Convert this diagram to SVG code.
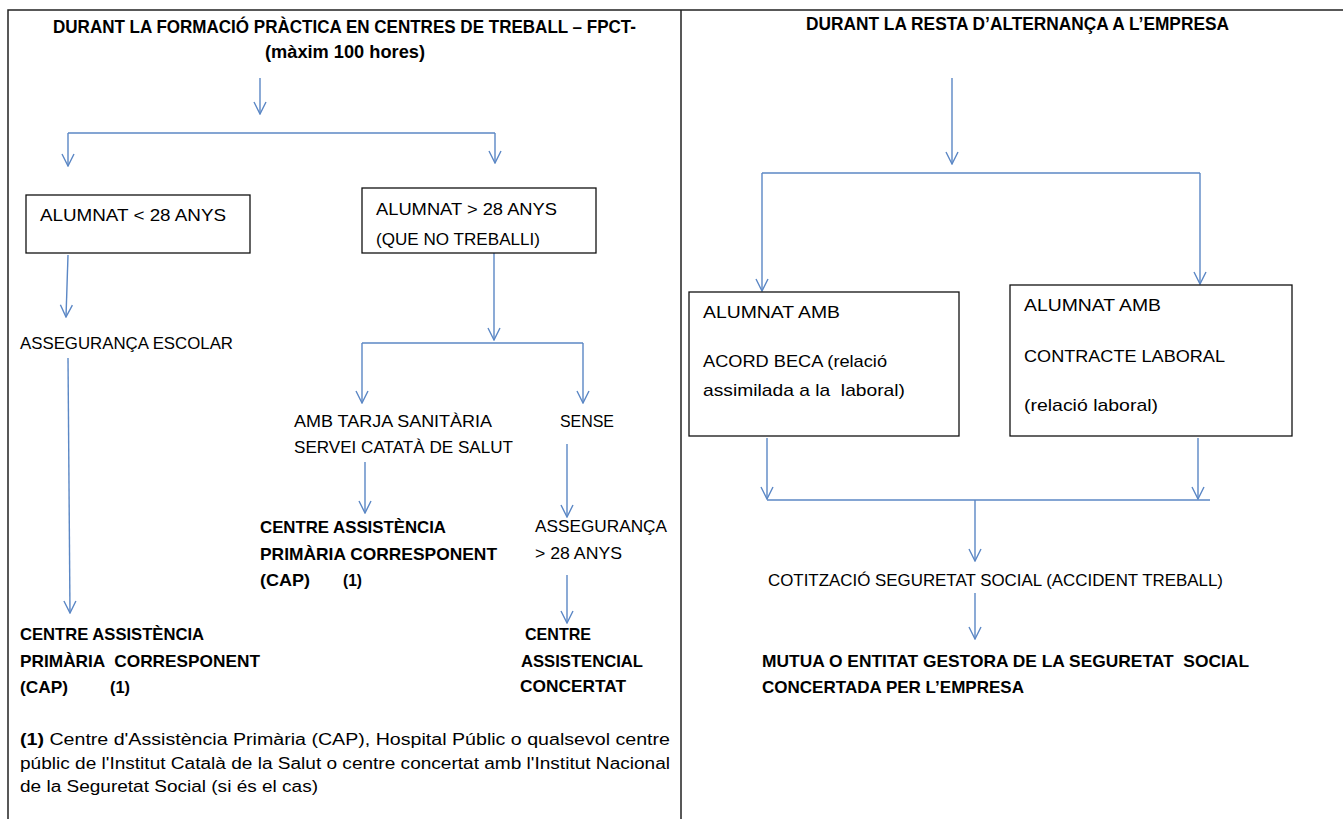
<svg xmlns="http://www.w3.org/2000/svg" width="1343" height="819" viewBox="0 0 1343 819">
<defs>
<marker id="ah" markerUnits="userSpaceOnUse" markerWidth="14" markerHeight="14" viewBox="0 0 14 14" refX="13" refY="7" orient="auto">
<path d="M1,1 L13,7 L1,13" fill="none" stroke="#5b87c5" stroke-width="1.4"/>
</marker>
</defs>
<style>
.frame{fill:none;stroke:#222;stroke-width:1.5}
.box{fill:#fff;stroke:#111;stroke-width:1.3}
.c{fill:none;stroke:#5b87c5;stroke-width:1.4}
.a{marker-end:url(#ah)}
text{font-family:"Liberation Sans",Arial,sans-serif;fill:#000}
.t{font-size:18px;font-weight:bold}
.r{font-size:17px}
.b{font-size:17px;font-weight:bold}
.f{font-size:16px}
</style>
<rect width="1343" height="819" fill="#fff"/>
<g id="frame">
<path class="frame" d="M8,819 V10 H1343 M681,10 V819"/>
</g>
<g id="connectors">
<line class="c a" x1="260" y1="78" x2="260" y2="114"/>
<path class="c" d="M68,133 H495"/>
<line class="c a" x1="68" y1="133" x2="68" y2="166"/>
<line class="c a" x1="495" y1="133" x2="495" y2="163"/>
<line class="c a" x1="68" y1="255" x2="66" y2="317"/>
<line class="c a" x1="68" y1="358" x2="70" y2="613"/>
<line class="c a" x1="494" y1="253" x2="494" y2="340"/>
<path class="c" d="M362,343 H583"/>
<line class="c a" x1="362" y1="343" x2="362" y2="403"/>
<line class="c a" x1="583" y1="343" x2="583" y2="403"/>
<line class="c a" x1="365" y1="462" x2="365" y2="513"/>
<line class="c a" x1="567" y1="444" x2="567" y2="517"/>
<line class="c a" x1="567" y1="575" x2="567" y2="623"/>
<line class="c a" x1="952" y1="78" x2="952" y2="164"/>
<path class="c" d="M762,173 H1200"/>
<line class="c a" x1="762" y1="173" x2="762" y2="291"/>
<line class="c a" x1="1200" y1="173" x2="1200" y2="284"/>
<line class="c a" x1="767" y1="438" x2="767" y2="499"/>
<line class="c a" x1="1198" y1="438" x2="1198" y2="499"/>
<path class="c" d="M767,500 H1210"/>
<line class="c a" x1="975" y1="500" x2="975" y2="561"/>
<line class="c a" x1="975" y1="593" x2="975" y2="639"/>
</g>
<g id="title-left">
<text class="t" x="53" y="33" textLength="583" lengthAdjust="spacingAndGlyphs">DURANT LA FORMACIÓ PRÀCTICA EN CENTRES DE TREBALL – FPCT-</text>
<text class="t" x="265" y="58" textLength="160" lengthAdjust="spacingAndGlyphs">(màxim 100 hores)</text>
</g>
<g id="title-right">
<text class="t" x="806" y="30" textLength="423" lengthAdjust="spacingAndGlyphs">DURANT LA RESTA D’ALTERNANÇA A L’EMPRESA</text>
</g>
<g id="box-menor28">
<rect class="box" x="26" y="195" width="224" height="58"/>
<text class="r" x="40" y="221" textLength="186" lengthAdjust="spacingAndGlyphs">ALUMNAT &lt; 28 ANYS</text>
</g>
<g id="box-major28">
<rect class="box" x="362" y="188" width="234" height="65"/>
<text class="r" x="376" y="215" textLength="181" lengthAdjust="spacingAndGlyphs">ALUMNAT &gt; 28 ANYS</text>
<text class="r" x="376" y="245" textLength="164" lengthAdjust="spacingAndGlyphs">(QUE NO TREBALLI)</text>
</g>
<g id="asseguranca-escolar">
<text class="r" x="20" y="349" textLength="213" lengthAdjust="spacingAndGlyphs">ASSEGURANÇA ESCOLAR</text>
</g>
<g id="cap-left">
<text class="b" x="20" y="640" textLength="184" lengthAdjust="spacingAndGlyphs">CENTRE ASSISTÈNCIA</text>
<text class="b" x="20" y="667" textLength="240" lengthAdjust="spacingAndGlyphs" xml:space="preserve">PRIMÀRIA  CORRESPONENT</text>
<text class="b" x="20" y="693" textLength="48" lengthAdjust="spacingAndGlyphs">(CAP)</text>
<text class="b" x="110" y="693" textLength="20" lengthAdjust="spacingAndGlyphs">(1)</text>
</g>
<g id="amb-tarja">
<text class="r" x="294" y="427" textLength="198" lengthAdjust="spacingAndGlyphs">AMB TARJA SANITÀRIA</text>
<text class="r" x="294" y="453" textLength="219" lengthAdjust="spacingAndGlyphs">SERVEI CATATÀ DE SALUT</text>
</g>
<g id="sense">
<text class="r" x="560" y="427" textLength="54" lengthAdjust="spacingAndGlyphs">SENSE</text>
</g>
<g id="cap-mid">
<text class="b" x="260" y="533" textLength="186" lengthAdjust="spacingAndGlyphs">CENTRE ASSISTÈNCIA</text>
<text class="b" x="260" y="560" textLength="237" lengthAdjust="spacingAndGlyphs">PRIMÀRIA CORRESPONENT</text>
<text class="b" x="260" y="586" textLength="50" lengthAdjust="spacingAndGlyphs">(CAP)</text>
<text class="b" x="343" y="586" textLength="19" lengthAdjust="spacingAndGlyphs">(1)</text>
</g>
<g id="asseguranca-28">
<text class="r" x="535" y="532" textLength="132" lengthAdjust="spacingAndGlyphs">ASSEGURANÇA</text>
<text class="r" x="535" y="559" textLength="87" lengthAdjust="spacingAndGlyphs">&gt; 28 ANYS</text>
</g>
<g id="centre-concertat">
<text class="b" x="525" y="640" textLength="66" lengthAdjust="spacingAndGlyphs">CENTRE</text>
<text class="b" x="521" y="667" textLength="122" lengthAdjust="spacingAndGlyphs">ASSISTENCIAL</text>
<text class="b" x="520" y="692" textLength="106" lengthAdjust="spacingAndGlyphs">CONCERTAT</text>
</g>
<g id="footnote">
<text class="f" x="20" y="745" textLength="650" lengthAdjust="spacingAndGlyphs"><tspan font-weight="bold">(1)</tspan> Centre d'Assistència Primària (CAP), Hospital Públic o qualsevol centre</text>
<text class="f" x="20" y="769" textLength="650" lengthAdjust="spacingAndGlyphs">públic de l'Institut Català de la Salut o centre concertat amb l'Institut Nacional</text>
<text class="f" x="20" y="792" textLength="298" lengthAdjust="spacingAndGlyphs">de la Seguretat Social (si és el cas)</text>
</g>
<g id="box-beca">
<rect class="box" x="689" y="292" width="270" height="144"/>
<text class="r" x="703" y="318" textLength="137" lengthAdjust="spacingAndGlyphs">ALUMNAT AMB</text>
<text class="r" x="703" y="367" textLength="184" lengthAdjust="spacingAndGlyphs">ACORD BECA (relació</text>
<text class="r" x="703" y="396" textLength="202" lengthAdjust="spacingAndGlyphs" xml:space="preserve">assimilada a la  laboral)</text>
</g>
<g id="box-contracte">
<rect class="box" x="1010" y="285" width="282" height="151"/>
<text class="r" x="1024" y="311" textLength="137" lengthAdjust="spacingAndGlyphs">ALUMNAT AMB</text>
<text class="r" x="1024" y="362" textLength="201" lengthAdjust="spacingAndGlyphs">CONTRACTE LABORAL</text>
<text class="r" x="1024" y="411" textLength="134" lengthAdjust="spacingAndGlyphs">(relació laboral)</text>
</g>
<g id="cotitzacio">
<text class="r" x="768" y="586" textLength="455" lengthAdjust="spacingAndGlyphs">COTITZACIÓ SEGURETAT SOCIAL (ACCIDENT TREBALL)</text>
</g>
<g id="mutua">
<text class="b" x="762" y="667" textLength="487" lengthAdjust="spacingAndGlyphs" xml:space="preserve">MUTUA O ENTITAT GESTORA DE LA SEGURETAT  SOCIAL</text>
<text class="b" x="762" y="693" textLength="262" lengthAdjust="spacingAndGlyphs">CONCERTADA PER L’EMPRESA</text>
</g>
</svg>
